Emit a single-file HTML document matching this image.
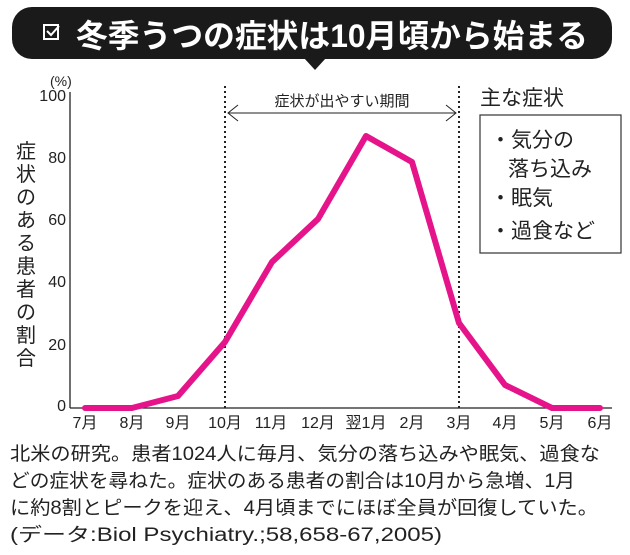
<!DOCTYPE html>
<html><head><meta charset="utf-8"><style>
body{margin:0;background:#fff;}
svg{display:block;font-family:"Liberation Sans","Noto Sans CJK JP",sans-serif;}
</style></head><body>
<svg width="630" height="555" viewBox="0 0 630 555" xmlns="http://www.w3.org/2000/svg">
<rect x="12" y="7" width="600" height="52" rx="20" fill="#1a1a1a"/>
<polygon points="304,58 326,58 315,70" fill="#1a1a1a"/>
<rect x="44" y="25" width="14" height="14" fill="none" stroke="#fff" stroke-width="2"/>
<path d="M47 31 l4 4 l8 -9" fill="none" stroke="#fff" stroke-width="2"/>
<text x="76" y="47" font-size="32" font-weight="bold" fill="#fff" textLength="512" lengthAdjust="spacingAndGlyphs">冬季うつの症状は10月頃から始まる</text>

<text x="50" y="86" font-size="14" fill="#222">(%)</text>
<g font-size="16" fill="#222" text-anchor="end">
<text x="66" y="101">100</text><text x="66" y="163">80</text><text x="66" y="225">60</text>
<text x="66" y="287">40</text><text x="66" y="350">20</text><text x="66" y="411">0</text>
</g>
<line x1="70" y1="92" x2="70" y2="408" stroke="#222" stroke-width="1.3"/>
<line x1="70" y1="408" x2="612" y2="408" stroke="#222" stroke-width="1.3"/>
<line x1="225" y1="86" x2="225" y2="408" stroke="#222" stroke-width="2" stroke-dasharray="2,3"/>
<line x1="459" y1="86" x2="459" y2="408" stroke="#222" stroke-width="2" stroke-dasharray="2,3"/>
<line x1="228" y1="113" x2="456" y2="113" stroke="#222" stroke-width="1"/>
<path d="M238 105 L228 113 L238 121 M446 105 L456 113 L446 121" fill="none" stroke="#222" stroke-width="1"/>
<text x="342" y="106" font-size="15" fill="#222" text-anchor="middle">症状が出やすい期間</text>

<g font-size="20" fill="#222" text-anchor="middle">
<text x="26" y="158">症</text><text x="26" y="181">状</text><text x="26" y="204">の</text>
<text x="26" y="227">あ</text><text x="26" y="250">る</text><text x="26" y="273">患</text>
<text x="26" y="296">者</text><text x="26" y="319">の</text><text x="26" y="342">割</text>
<text x="26" y="365">合</text>
</g>

<polyline points="85,408 132,408 178,396 225,342 272,262 318,219 366,136 412,162 459,323 505,385 552,408 600,408" fill="none" stroke="#e5148a" stroke-width="6" stroke-linejoin="round" stroke-linecap="round"/>

<g font-size="16" fill="#222" text-anchor="middle">
<text x="85" y="428">7月</text><text x="132" y="428">8月</text><text x="178" y="428">9月</text>
<text x="225" y="428">10月</text><text x="271" y="428">11月</text><text x="318" y="428">12月</text>
<text x="366" y="428">翌1月</text><text x="412" y="428">2月</text><text x="459" y="428">3月</text>
<text x="505" y="428">4月</text><text x="552" y="428">5月</text><text x="600" y="428">6月</text>
</g>

<text x="480" y="105" font-size="21" fill="#222">主な症状</text>
<rect x="480" y="115" width="141" height="138" fill="none" stroke="#333" stroke-width="1.2"/>
<g font-size="21" fill="#222">
<text x="490" y="147">・気分の</text>
<text x="508" y="176">落ち込み</text>
<text x="490" y="205">・眠気</text>
<text x="490" y="238">・過食など</text>
</g>

<g font-size="19" fill="#222">
<text x="10" y="460" textLength="590" lengthAdjust="spacingAndGlyphs">北米の研究。患者1024人に毎月、気分の落ち込みや眠気、過食な</text>
<text x="10" y="487" textLength="565" lengthAdjust="spacingAndGlyphs">どの症状を尋ねた。症状のある患者の割合は10月から急増、1月</text>
<text x="10" y="514" textLength="588" lengthAdjust="spacingAndGlyphs">に約8割とピークを迎え、4月頃までにほぼ全員が回復していた。</text>
<text x="10" y="541" textLength="432" lengthAdjust="spacingAndGlyphs">(データ:Biol Psychiatry.;58,658-67,2005)</text>
</g>
</svg>
</body></html>
